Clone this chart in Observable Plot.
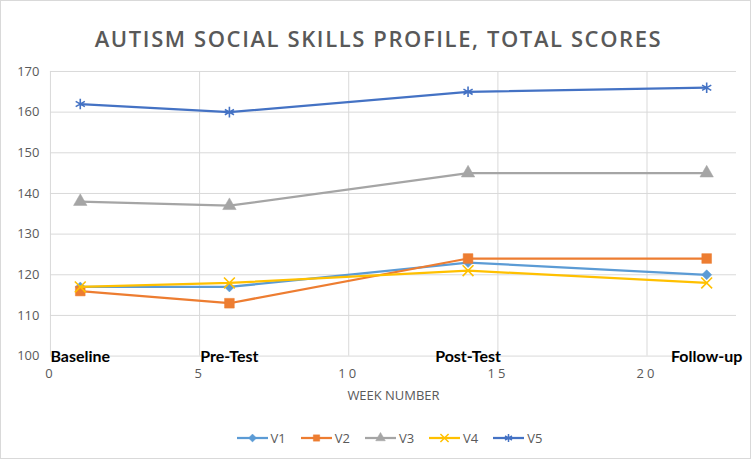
<!DOCTYPE html>
<html>
<head>
<meta charset="utf-8">
<script src="https://cdn.jsdelivr.net/npm/d3@7"></script>
<script src="https://cdn.jsdelivr.net/npm/@observablehq/plot@0.6"></script>
<style>
  body { margin: 0; background: #fff; }
  #chart { position: relative; width: 751px; height: 459px; box-sizing: border-box; border: 1px solid #d9d9d9; font-family: "Open Sans", sans-serif; overflow: hidden; }
  #title { position: absolute; top: 21px; left: 3px; width: 100%; text-align: center; font-size: 22px; line-height: 32px; font-weight: 600; color: #595959; letter-spacing: 1.6px; }
  #plot { position: absolute; top: 54px; left: -1px; }
  #legend { position: absolute; top: 427px; left: 14px; width: 100%; display: flex; justify-content: center; gap: 15px; font-size: 13px; color: #595959; line-height: 20px; }
  .item { display: flex; align-items: center; gap: 3px; }
  g[aria-label="x-axis tick label"] text { letter-spacing: 3px; }
</style>
</head>
<body>
<div id="chart">
  <div id="title">AUTISM SOCIAL SKILLS PROFILE, TOTAL SCORES</div>
  <div id="plot"></div>
  <div id="legend"></div>
</div>
<script>
const weeks = [1, 6, 14, 22];
const phases = ["Baseline", "Pre-Test", "Post-Test", "Follow-up"];
const seriesNames = ["V1", "V2", "V3", "V4", "V5"];
const v1 = [117, 117, 123, 120];
const v2 = [116, 113, 124, 124];
const v3 = [138, 137, 145, 145];
const v4 = [117, 118, 121, 118];
const v5 = [162, 160, 165, 166];
const xTicks = [0, 5, 10, 15, 20];
const yTicks = [100, 110, 120, 130, 140, 150, 160, 170];

const colors = ["#5B9BD5", "#ED7D31", "#A5A5A5", "#FFC000", "#4472C4"];
const symbols = ["diamond2", "square", "triangle", "times", "asterisk"];
const filled = [true, true, true, false, false];
const sizes = [4.5, 5.5, 5, 5, 5];

const values = [v1, v2, v3, v4, v5];
const rows = [];
values.forEach((vals, si) => vals.forEach((v, i) => rows.push({series: seriesNames[si], si, week: weeks[i], value: v})));
const phaseRows = phases.map((p, i) => ({phase: p, week: weeks[i], value: yTicks[0]}));

const marks = [
  Plot.gridX(xTicks, {stroke: "#d9d9d9", strokeOpacity: 1}),
  Plot.gridY(yTicks, {stroke: "#d9d9d9", strokeOpacity: 1}),
  Plot.axisY(yTicks, {tickSize: 0, tickPadding: 11, fontSize: 13, fill: "#595959", label: null}),
  Plot.axisX(xTicks, {tickSize: 0, tickPadding: 13, fontSize: 13, fill: "#595959", label: "WEEK NUMBER", labelAnchor: "center", labelOffset: 44, labelArrow: "none"}),
  Plot.text(phaseRows, {x: "week", y: "value", text: "phase", dy: 1, fontSize: 16, fontWeight: "bold", fill: "#000", lineAnchor: "middle", fontFamily: "'Liberation Sans Narrow', 'Lato', sans-serif"})
];
seriesNames.forEach((name, si) => {
  const d = rows.filter(r => r.si === si);
  marks.push(Plot.line(d, {x: "week", y: "value", stroke: colors[si], strokeWidth: 2.25}));
  marks.push(Plot.dot(d, {x: "week", y: "value", symbol: () => symbols[si], r: sizes[si], stroke: colors[si], fill: filled[si] ? colors[si] : "none", strokeWidth: filled[si] ? 0.5 : 1.6}));
});

const plot = Plot.plot({
  width: 751,
  height: 356,
  marginLeft: 50,
  marginRight: 14,
  marginTop: 16,
  marginBottom: 55,
  style: {fontFamily: "Open Sans, sans-serif", background: "transparent", overflow: "visible"},
  x: {domain: [0, 23]},
  y: {domain: [100, 170]},
  marks
});
document.getElementById("plot").appendChild(plot);

// legend
const legend = document.getElementById("legend");
const symMap = {diamond2: d3.symbolDiamond2, square: d3.symbolSquare, triangle: d3.symbolTriangle, times: d3.symbolTimes, asterisk: d3.symbolAsterisk};
seriesNames.forEach((name, si) => {
  const item = document.createElement("div");
  item.className = "item";
  const svg = d3.create("svg").attr("width", 31).attr("height", 14);
  svg.append("line").attr("x1", 0).attr("x2", 31).attr("y1", 7).attr("y2", 7).attr("stroke", colors[si]).attr("stroke-width", 2.25);
  const sz = filled[si] ? 40 : 45;
  svg.append("path").attr("transform", "translate(15.5,7)").attr("d", d3.symbol(symMap[symbols[si]], sz)())
    .attr("fill", filled[si] ? colors[si] : "none").attr("stroke", colors[si]).attr("stroke-width", filled[si] ? 0.5 : 1.5);
  item.appendChild(svg.node());
  const t = document.createElement("span");
  t.textContent = name;
  item.appendChild(t);
  legend.appendChild(item);
});
</script>
</body>
</html>
